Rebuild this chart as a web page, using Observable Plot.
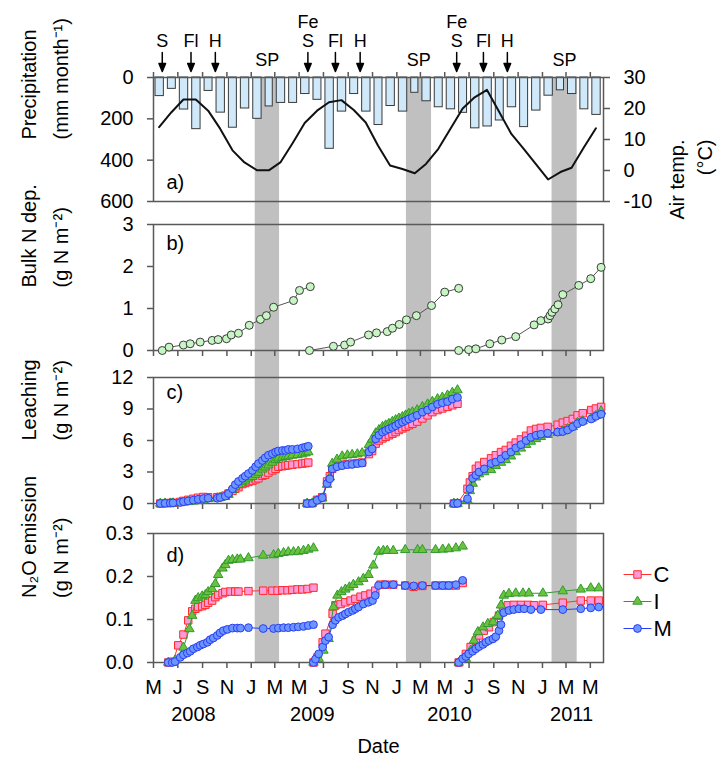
<!DOCTYPE html>
<html><head><meta charset="utf-8">
<script src="https://cdn.jsdelivr.net/npm/d3@7"></script>
<script src="https://cdn.jsdelivr.net/npm/@observablehq/plot@0.6"></script>
<style>
body{margin:0;background:#fff;}
#chart{position:relative;width:718px;height:758px;}
#chart svg{position:absolute;left:0;max-width:none;}
</style></head><body><div id="chart"></div>
<script>
// ---------- DATA (days are counted from 1 May 2008) ----------
const monthStartYear = 2008, monthStartMonth = 4; // May 2008
const precipMonthly = [90,55,155,250,65,170,243,150, 200,140,123,123,80,108,345,165,80,165,230,138, 165,74,115,144,154,171,246,237,208,144,240,160, 88,62,80,154,181];
const tempMonthly = [14,18.8,22.9,22.9,19.3,13.5,6.5,2.6, 0.1,0.1,2.6,8.9,15.3,19.3,22,22.7,19.5,15.5,8,1.6, 0.5,-0.9,2.1,7,13.4,20,23.6,26,18.8,11.8,7,2.1, -2.9,-0.5,0.9,7.5,13.6];

const bandStartDays = [255, 634, 999];
const bandEndDays = [316, 697, 1062];
const eventLabels = ["S","Fl","H","S","Fl","H","S","Fl","H"];
const eventDays = [22, 94, 155, 387, 456, 518, 760, 827, 887];
const fertDays = [387, 760];
const yearLabels = ["2008","2009","2010","2011"];
const yearLabelDays = [100, 398, 742, 1048];

const bulk1 = [[22,0],[39,0.08],[75,0.13],[92,0.16],[117,0.2],[147,0.24],[162,0.26],[183,0.28],[195,0.37],[213,0.41],[240,0.6],[268,0.74],[283,0.83],[301,1.03],[351,1.19],[366,1.43],[393,1.52]];
const bulk2 = [[391,0],[451,0.1],[479,0.13],[494,0.2],[539,0.37],[559,0.42],[586,0.45],[599,0.53],[616,0.62],[634,0.73],[659,0.83],[697,1.07],[730,1.39],[765,1.48]];
const bulk3 = [[765,0],[790,0.02],[808,0.04],[843,0.16],[873,0.25],[908,0.33],[954,0.61],[971,0.71],[989,0.75],[994,0.83],[999,0.91],[1006,0.99],[1014,1.09],[1026,1.33],[1066,1.55],[1096,1.71],[1122,1.98]];

const leachC1 = [[17,0],[29,0.03],[42,0.05],[49,0.07],[67,0.15],[75,0.25],[87,0.35],[100,0.45],[112,0.55],[125,0.62],[137,0.6],[160,0.6],[167,0.62],[180,0.75],[188,0.95],[198,1.2],[205,1.4],[213,1.55],[223,1.85],[230,1.95],[238,2.05],[248,2.15],[256,2.3],[263,2.4],[273,2.65],[280,2.75],[288,2.95],[298,3.15],[306,3.3],[313,3.5],[323,3.55],[331,3.6],[338,3.65],[348,3.7],[361,3.75],[373,3.8],[381,3.85],[388,3.9]];
const leachI1 = [[17,0],[29,0.01],[42,0.02],[49,0.03],[67,0.06],[75,0.1],[87,0.15],[100,0.2],[112,0.25],[125,0.3],[137,0.45],[160,0.5],[167,0.55],[180,0.65],[188,0.85],[198,1.3],[205,1.6],[213,1.8],[223,2.05],[230,2.2],[238,2.4],[248,2.55],[256,2.75],[263,2.95],[273,3.25],[280,3.45],[288,3.65],[298,3.9],[306,4.15],[313,4.3],[323,4.38],[331,4.45],[338,4.5],[348,4.58],[361,4.62],[373,4.7],[381,4.8],[388,4.9]];
const leachM1 = [[17,0],[29,0.02],[42,0.04],[49,0.06],[67,0.1],[75,0.18],[87,0.25],[100,0.32],[112,0.4],[125,0.47],[137,0.5],[160,0.5],[167,0.57],[180,0.7],[188,0.95],[198,1.4],[205,1.8],[213,2.1],[223,2.4],[230,2.6],[238,2.85],[248,3.15],[256,3.5],[263,3.8],[273,4.1],[280,4.35],[288,4.6],[298,4.75],[306,4.9],[313,5.0],[323,5.05],[331,5.05],[338,5.15],[348,5.15],[361,5.2],[373,5.3],[381,5.37],[388,5.45]];
const leachC2 = [[385,0],[398,0.03],[410,0.35],[423,0.6],[435,2.1],[442,2.6],[448,3.3],[460,3.6],[473,3.7],[486,3.75],[498,3.8],[511,3.85],[523,3.9],[540,4.7],[548,5.0],[557,5.7],[565,6.0],[574,6.2],[582,6.35],[590,6.5],[599,6.65],[607,6.8],[615,7.0],[624,7.15],[632,7.3],[640,7.45],[649,7.6],[661,7.8],[674,8.1],[687,8.4],[699,8.7],[712,8.9],[724,9.05],[737,9.2],[749,9.35],[762,9.5]];
const leachI2 = [[385,0],[398,0.02],[410,0.25],[423,0.5],[435,1.8],[442,2.5],[448,3.8],[460,4.2],[473,4.5],[486,4.6],[498,4.65],[511,4.7],[523,4.8],[540,5.6],[548,6.1],[557,6.7],[565,7.0],[574,7.3],[582,7.45],[590,7.6],[599,7.8],[607,7.95],[615,8.1],[624,8.25],[632,8.4],[640,8.55],[649,8.7],[661,8.9],[674,9.2],[687,9.45],[699,9.7],[712,9.95],[724,10.1],[737,10.3],[749,10.55],[762,10.8]];
const leachM2 = [[385,0],[398,0.02],[410,0.3],[423,0.55],[435,1.9],[442,2.35],[448,3.3],[460,3.5],[473,3.6],[486,3.7],[498,3.72],[511,3.8],[523,3.85],[540,4.9],[548,5.2],[557,6.15],[565,6.5],[574,6.8],[582,6.95],[590,7.1],[599,7.25],[607,7.4],[615,7.6],[624,7.75],[632,7.9],[640,8.05],[649,8.2],[661,8.4],[674,8.7],[687,8.9],[699,9.2],[712,9.45],[724,9.6],[737,9.7],[749,9.95],[762,10.1]];
const leachC3 = [[753,0],[762,0.03],[787,1.4],[793,2.0],[800,2.6],[808,3.3],[816,3.6],[829,3.95],[846,4.3],[858,4.6],[871,4.9],[883,5.1],[896,5.5],[908,5.8],[921,6.1],[934,6.45],[946,6.95],[959,7.1],[971,7.2],[988,7.3],[1013,7.5],[1026,7.7],[1038,7.85],[1051,8.05],[1063,8.4],[1076,8.6],[1097,8.9],[1109,9.05],[1122,9.2]];
const leachI3 = [[753,0],[762,0.0],[787,0.3],[793,1.2],[800,1.9],[808,2.5],[816,2.8],[829,3.0],[846,3.2],[858,3.6],[871,3.9],[883,4.15],[896,4.5],[908,4.9],[921,5.25],[934,5.6],[946,5.9],[959,6.15],[971,6.35],[988,6.55],[1013,6.75],[1026,6.9],[1038,7.1],[1051,7.3],[1063,7.7],[1076,7.85],[1097,8.1],[1109,8.35],[1122,8.8]];
const leachM3 = [[753,0],[762,0.02],[787,0.45],[793,1.4],[800,2.4],[808,2.7],[816,3.0],[829,3.3],[846,3.8],[858,3.95],[871,4.25],[883,4.6],[896,4.9],[908,5.3],[921,5.6],[934,6.0],[946,6.3],[959,6.5],[971,6.6],[988,6.7],[1013,6.8],[1026,6.85],[1038,7.0],[1051,7.3],[1063,7.6],[1076,7.8],[1097,8.05],[1109,8.3],[1122,8.5]];

const n2oC1 = [[37,0],[49,0.002],[62,0.04],[75,0.065],[87,0.098],[97,0.119],[105,0.125],[112,0.129],[122,0.131],[130,0.134],[137,0.139],[147,0.144],[155,0.152],[162,0.157],[173,0.161],[180,0.164],[193,0.165],[205,0.165],[213,0.165],[238,0.166],[275,0.167],[298,0.167],[311,0.167],[323,0.168],[336,0.168],[348,0.169],[361,0.17],[373,0.17],[386,0.171],[401,0.174]];
const n2oI1 = [[37,0],[54,0.005],[75,0.035],[90,0.078],[97,0.109],[105,0.144],[112,0.15],[122,0.154],[130,0.157],[137,0.164],[147,0.171],[155,0.183],[162,0.204],[173,0.219],[180,0.227],[188,0.237],[198,0.239],[210,0.24],[218,0.24],[238,0.243],[275,0.249],[301,0.25],[313,0.253],[326,0.255],[338,0.257],[351,0.257],[363,0.258],[376,0.26],[388,0.263],[401,0.266]];
const n2oM1 = [[37,0],[47,0],[54,0.002],[67,0.012],[75,0.018],[85,0.022],[92,0.026],[100,0.032],[110,0.036],[117,0.04],[125,0.043],[135,0.047],[142,0.053],[150,0.057],[160,0.063],[167,0.069],[175,0.074],[185,0.077],[198,0.08],[210,0.08],[218,0.08],[238,0.081],[275,0.079],[301,0.079],[313,0.08],[326,0.081],[338,0.081],[351,0.082],[363,0.083],[376,0.084],[388,0.086],[401,0.088]];
const n2oC2 = [[401,0],[411,0.012],[424,0.047],[431,0.067],[449,0.113],[456,0.133],[469,0.136],[481,0.14],[494,0.144],[506,0.148],[519,0.153],[531,0.156],[544,0.16],[556,0.167],[569,0.181],[581,0.181],[601,0.181],[631,0.179],[652,0.176],[674,0.178],[707,0.179],[725,0.179],[740,0.179],[758,0.179],[775,0.185]];
const n2oI2 = [[401,0],[414,0.009],[426,0.028],[439,0.055],[451,0.129],[461,0.156],[471,0.164],[481,0.17],[491,0.175],[501,0.181],[514,0.187],[526,0.195],[539,0.204],[551,0.226],[564,0.258],[576,0.26],[586,0.26],[601,0.26],[631,0.262],[662,0.262],[674,0.262],[707,0.262],[725,0.263],[740,0.264],[758,0.266],[775,0.27]];
const n2oM2 = [[401,0],[406,0.008],[414,0.02],[424,0.036],[431,0.051],[439,0.059],[449,0.088],[456,0.098],[464,0.105],[474,0.109],[481,0.113],[489,0.117],[499,0.121],[506,0.125],[514,0.129],[526,0.136],[539,0.14],[549,0.144],[556,0.156],[564,0.179],[581,0.181],[601,0.181],[631,0.179],[652,0.178],[674,0.179],[707,0.179],[725,0.179],[740,0.179],[758,0.181],[775,0.191]];
const n2oC3 = [[765,0],[783,0.02],[795,0.036],[808,0.051],[816,0.063],[828,0.074],[841,0.082],[853,0.094],[866,0.109],[876,0.129],[888,0.133],[903,0.134],[921,0.134],[939,0.134],[954,0.133],[976,0.134],[1026,0.139],[1071,0.144],[1096,0.144],[1116,0.144]];
const n2oI3 = [[765,0],[783,0.009],[795,0.028],[803,0.051],[813,0.071],[826,0.082],[838,0.09],[851,0.094],[863,0.109],[871,0.133],[878,0.156],[891,0.16],[908,0.161],[926,0.161],[941,0.161],[976,0.161],[1026,0.166],[1071,0.17],[1096,0.173],[1116,0.173]];
const n2oM3 = [[765,0],[775,0.009],[783,0.014],[790,0.02],[800,0.026],[808,0.032],[816,0.037],[826,0.042],[833,0.047],[841,0.051],[851,0.055],[858,0.06],[866,0.074],[871,0.088],[878,0.116],[891,0.121],[903,0.123],[916,0.125],[929,0.125],[946,0.123],[971,0.123],[1026,0.123],[1071,0.125],[1096,0.127],[1116,0.129]];

const seriesNames = ["C","I","M"];

// ---------- helpers ----------
const START = new Date(Date.UTC(monthStartYear, monthStartMonth, 1));
const END = new Date(Date.UTC(2011, 5, 3));
const day = d => d3.utcDay.offset(START, d);
const monthTicks = d3.utcMonth.every(2).range(START, END);
const monthLetter = d => "JFMAMJJASOND"[d.getUTCMonth()];

const precip = precipMonthly.map((v, i) => ({start: d3.utcMonth.offset(START, i), end: d3.utcMonth.offset(START, i + 1), value: v}));
const temp = tempMonthly.map((v, i) => ({date: d3.utcDay.offset(d3.utcMonth.offset(START, i), 14), value: v}));
const bands = bandStartDays.map((s, i) => ({start: day(s), end: day(bandEndDays[i]), mid: day((s + bandEndDays[i]) / 2)}));
const events = eventDays.map((d, i) => ({date: day(d), label: eventLabels[i]}));
const fert = fertDays.map(d => ({date: day(d)}));
const years = yearLabelDays.map((d, i) => ({date: day(d), label: yearLabels[i]}));

const toRows = (pairs, series, season) => pairs.map(([d, v]) => ({date: day(d), value: v, series, season}));
const bulkRows = [...toRows(bulk1, "B", 1), ...toRows(bulk2, "B", 2), ...toRows(bulk3, "B", 3)];
const leachRows = [
  ...toRows(leachC1,"C",1), ...toRows(leachC2,"C",2), ...toRows(leachC3,"C",3),
  ...toRows(leachI1,"I",1), ...toRows(leachI2,"I",2), ...toRows(leachI3,"I",3),
  ...toRows(leachM1,"M",1), ...toRows(leachM2,"M",2), ...toRows(leachM3,"M",3)];
const n2oRows = [
  ...toRows(n2oC1,"C",1), ...toRows(n2oC2,"C",2), ...toRows(n2oC3,"C",3),
  ...toRows(n2oI1,"I",1), ...toRows(n2oI2,"I",2), ...toRows(n2oI3,"I",3),
  ...toRows(n2oM1,"M",1), ...toRows(n2oM2,"M",2), ...toRows(n2oM3,"M",3)];

const sty = {
  C: {symbol: "square", r: 4.2, fill: "#ff9ad8", stroke: "#ff2a2a", line: "#ff3030"},
  I: {symbol: "triangle", r: 3.5, fill: "#6cc23c", stroke: "#2f9a2f", line: "#2f9a2f"},
  M: {symbol: "circle", r: 3.9, fill: "#6b96ff", stroke: "#2a3cf5", line: "#2a3cf5"}
};

const FONT = "'Liberation Sans', Arial, Helvetica, sans-serif";
const W = 718, ML = 153, MR = 115;
const FRAME = "#595959";
const chart = document.getElementById("chart");

function place(svg, top) { svg.style.top = top + "px"; chart.append(svg); }
function make(top, height, mt, mb, y, marks) {
  const svg = Plot.plot({
    width: W, height, marginTop: mt, marginBottom: mb, marginLeft: ML, marginRight: MR,
    x: {type: "utc", domain: [START, END], axis: null},
    y: y,
    style: {background: "transparent", fontSize: "20px", fontFamily: FONT, color: "black", overflow: "visible"},
    marks
  });
  place(svg, top);
  return svg;
}
const intFmt = d => String(d);
const title = (t) => Plot.text([t], {text: d => d, frameAnchor: "left", dx: -112, rotate: -90, lineHeight: 1.6, lineAnchor: "middle", fontSize: 20});
const tag = (t, anchor, dy) => Plot.text([t], {text: d => d, frameAnchor: anchor, dx: 13, dy, textAnchor: "start", lineAnchor: "middle", fontSize: 20});
const frame = () => Plot.frame({stroke: FRAME, strokeWidth: 1.5});
const yAxis = (ticks, fmt = intFmt) => Plot.axisY({ticks, tickFormat: fmt, tickSize: 6, tickPadding: 14, stroke: FRAME, strokeWidth: 1.5, label: null});
const xBare = (anchor) => Plot.axisX({anchor, ticks: monthTicks, tickFormat: () => "", tickSize: 6, stroke: FRAME, strokeWidth: 1.5, label: null});
const seriesMarks = (rows) => seriesNames.flatMap(s => {
  const data = rows.filter(r => r.series === s);
  const st = sty[s];
  return [
    Plot.line(data, {x: "date", y: "value", z: "season", stroke: st.line, strokeWidth: 1}),
    Plot.dot(data, {x: "date", y: "value", symbol: () => st.symbol, r: st.r, fill: st.fill, stroke: st.stroke, strokeWidth: 1})
  ];
});
const arrowShape = {draw(ctx, l) { ctx.moveTo(0, 0); ctx.lineTo(0, -l + 6); ctx.moveTo(-3.3, -l + 8); ctx.lineTo(0, -l); ctx.lineTo(3.3, -l + 8); ctx.closePath(); }};
const segShape = {draw(ctx, l) { ctx.moveTo(0, 0); ctx.lineTo(0, -l); }};

// ---------- background: snow-pack bands + management annotations ----------
make(0, 758, 77, 96, undefined, [
  Plot.rect(bands, {x1: "start", x2: "end", fill: "#c0c0c0"}),
  Plot.text(bands, {x: "mid", text: () => "SP", frameAnchor: "top", dy: -17, lineAnchor: "middle", fontSize: 18}),
  Plot.vector(events, {x: "date", frameAnchor: "top", dy: -6, rotate: 180, length: 19, anchor: "end", shape: arrowShape, stroke: "black", fill: "black", strokeWidth: 1.5}),
  Plot.text(events, {x: "date", text: "label", frameAnchor: "top", dy: -36, lineAnchor: "middle", fontSize: 18}),
  Plot.text(fert, {x: "date", text: () => "Fe", frameAnchor: "top", dy: -55, lineAnchor: "middle", fontSize: 18})
]);

// ---------- a) precipitation ----------
make(0, 211, 77, 10, {domain: [0, 600], reverse: true}, [
  Plot.rect(precip, {x1: "start", x2: "end", y1: 0, y2: "value", insetLeft: 2, insetRight: 2, fill: "#cfe9fb", stroke: "#3a3a3a", strokeWidth: 1}),
  frame(),
  xBare("top"),
  yAxis([0, 200, 400, 600]),
  tag("a)", "bottom-left", -19),
  title("Precipitation\n(mm month⁻¹)")
]);
// ---------- a) air temperature (right axis) ----------
make(0, 211, 77, 10, {domain: [-10, 30]}, [
  Plot.line(temp, {x: "date", y: "value", stroke: "#111", strokeWidth: 2}),
  Plot.axisY({anchor: "right", ticks: [-10, 0, 10, 20, 30], tickFormat: intFmt, tickSize: 6, tickPadding: 14, stroke: FRAME, strokeWidth: 1.5, label: null}),
  Plot.text(["Air temp.\n(°C)"], {text: d => d, frameAnchor: "right", dx: 86, rotate: -90, lineHeight: 1.4, lineAnchor: "middle", fontSize: 20})
]);

// ---------- b) bulk N deposition ----------
make(212, 152, 12, 14, {domain: [0, 3]}, [
  frame(),
  xBare("bottom"),
  yAxis([0, 1, 2, 3]),
  Plot.line(bulkRows, {x: "date", y: "value", z: "season", stroke: "#555", strokeWidth: 1}),
  Plot.dot(bulkRows, {x: "date", y: "value", r: 4, fill: "#c8f5c4", stroke: "#3a3a3a", strokeWidth: 1}),
  tag("b)", "top-left", 19),
  title("Bulk N dep.\n(g N m⁻²)")
]);

// ---------- c) leaching ----------
make(365, 152, 12, 14, {domain: [0, 12]}, [
  frame(),
  xBare("bottom"),
  yAxis([0, 3, 6, 9, 12]),
  ...seriesMarks(leachRows),
  tag("c)", "top-left", 15),
  title("Leaching\n(g N m⁻²)")
]);

// ---------- d) N2O emission ----------
make(518, 240, 15, 96, {domain: [0, 0.3]}, [
  frame(),
  Plot.axisX({anchor: "bottom", ticks: monthTicks, tickFormat: monthLetter, tickSize: 6, tickPadding: 11, stroke: FRAME, strokeWidth: 1.5, label: null, fontSize: 20}),
  yAxis([0, 0.1, 0.2, 0.3], d3.format(".1f")),
  ...seriesMarks(n2oRows),
  Plot.text(years, {x: "date", text: "label", frameAnchor: "bottom", dy: 52, lineAnchor: "middle", fontSize: 20}),
  Plot.text(["Date"], {text: d => d, frameAnchor: "bottom", dy: 84, lineAnchor: "middle", fontSize: 20}),
  tag("d)", "top-left", 22),
  title("N₂O emission\n(g N m⁻²)"),
  ...seriesNames.flatMap((s, i) => {
    const st = sty[s], dy = 41 + i * 27;
    return [
      Plot.vector([s], {frameAnchor: "top-right", dx: 34, dy, rotate: 90, length: 27, anchor: "middle", shape: segShape, stroke: st.line, strokeWidth: 1.2}),
      Plot.dot([s], {frameAnchor: "top-right", dx: 34, dy, symbol: () => st.symbol, r: st.r, fill: st.fill, stroke: st.stroke, strokeWidth: 1}),
      Plot.text([s], {text: d => d, frameAnchor: "top-right", dx: 50, dy, textAnchor: "start", lineAnchor: "middle", fontSize: 22})
    ];
  })
]);
</script></body></html>
